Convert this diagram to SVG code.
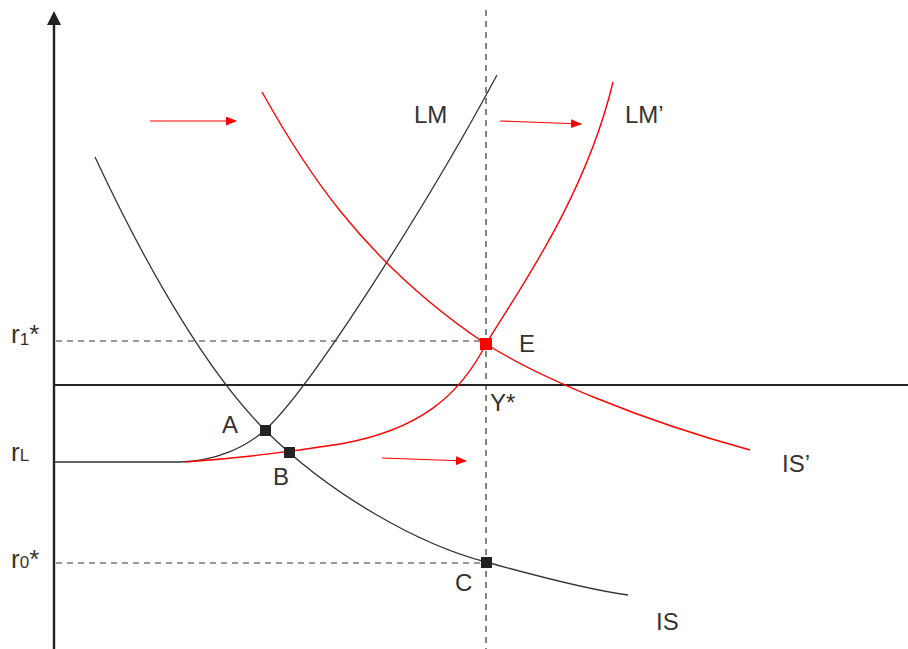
<svg xmlns="http://www.w3.org/2000/svg" width="908" height="649" viewBox="0 0 908 649">
<defs>
<style>
.lbl{font-family:"Liberation Sans",Arial,sans-serif;font-size:24px;fill:#333}
.rl{font-size:26px}
.sub{font-size:17px}
.dash{stroke:#333;stroke-width:1.2;stroke-dasharray:6 5;fill:none}
.blk{stroke:#333;stroke-width:1.3;fill:none}
.red{stroke:#ff0000;stroke-width:1.4;fill:none}
.arr{stroke:#ff0000;stroke-width:1.1;fill:none;marker-end:url(#ah)}
</style>
<marker id="ah" markerWidth="11" markerHeight="9" refX="10" refY="4.5" orient="auto" markerUnits="userSpaceOnUse">
<polygon points="0,0 11,4.5 0,9" fill="#ff0000"/>
</marker>
</defs>
<rect width="908" height="649" fill="#fff"/>
<g id="axes">
<line x1="54" y1="20" x2="54" y2="649" stroke="#222" stroke-width="2.4"/>
<polygon points="54,11 47,25 61,25" fill="#222"/>
<line x1="54" y1="385" x2="908" y2="385" stroke="#222" stroke-width="2"/>
</g>
<g id="guides">
<line class="dash" x1="486" y1="10" x2="486" y2="649"/>
<line class="dash" x1="56" y1="341" x2="486" y2="341"/>
<line class="dash" x1="56" y1="563" x2="486" y2="563"/>
</g>
<g id="connectors">
<path id="LM" class="blk" d="M54,462 L180,462 C215,461 245,448 265,430 C310,390 430,200 497,75"/>
<path id="IS" class="blk" d="M95,157 C150,275 210,375 265,430 C330,495 420,545 486,562 C540,577 590,590 628,595"/>
<path id="LMp" class="red" d="M185,462 C240,458 290,452 340,444 C420,430 460,395 486,344 C512,300 585,200 613,82"/>
<path id="ISp" class="red" d="M262,92 C300,160 360,260 486,344 C540,378 640,420 750,450"/>
<line class="arr" x1="150" y1="121" x2="236" y2="121"/>
<line class="arr" x1="500" y1="121" x2="581" y2="124"/>
<line class="arr" x1="382" y1="458" x2="466" y2="461"/>
</g>
<g id="pointA"><rect x="260" y="425" width="11" height="11" fill="#222"/><text class="lbl" x="222" y="433">A</text></g>
<g id="pointB"><rect x="284" y="447" width="11" height="11" fill="#222"/><text class="lbl" x="273" y="485">B</text></g>
<g id="pointC"><rect x="481" y="557" width="11" height="11" fill="#222"/><text class="lbl" x="455" y="591">C</text></g>
<g id="pointE"><rect x="480" y="338" width="12" height="12" fill="#ff0000"/><text class="lbl" x="519" y="352">E</text></g>
<g id="labels">
<text class="lbl" x="490" y="411">Y*</text>
<text class="lbl" x="414" y="123">LM</text>
<text class="lbl" x="625" y="123">LM’</text>
<text class="lbl" x="656" y="630">IS</text>
<text class="lbl" x="782" y="472">IS’</text>
<text class="lbl rl" x="11" y="343">r<tspan class="sub" dy="2">1</tspan><tspan dy="-2">*</tspan></text>
<text class="lbl rl" x="11" y="461">r<tspan class="sub">L</tspan></text>
<text class="lbl rl" x="11" y="568">r<tspan class="sub">0</tspan>*</text>
</g>
</svg>
